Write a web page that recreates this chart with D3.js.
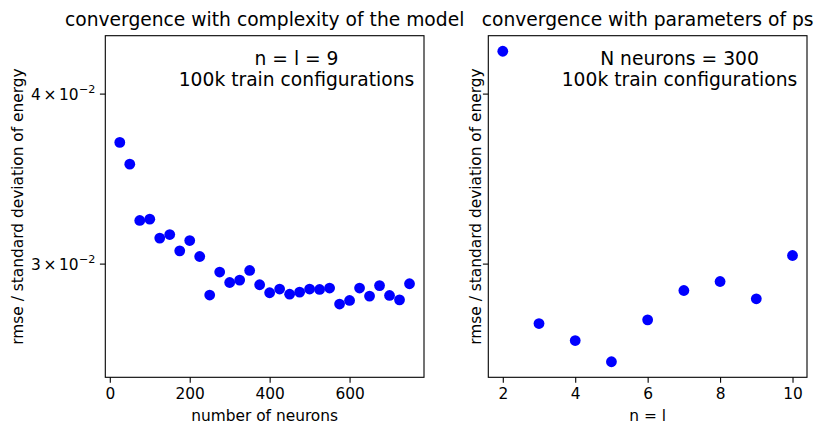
<!DOCTYPE html>
<html>
<head>
<meta charset="utf-8">
<script src="https://cdn.jsdelivr.net/npm/d3@7"></script>
<style>
  html, body { margin: 0; padding: 0; background: #fff; }
  svg { display: block; font-family: "DejaVu Sans", sans-serif; }
</style>
</head>
<body>
<svg id="chart" width="815" height="424"></svg>
<script>
// Number of neurons in the hidden layer (n = l = 9)
const neurons = [25, 50, 75, 100, 125, 150, 175, 200, 225, 250, 275, 300, 325, 350, 375,
                 400, 425, 450, 475, 500, 525, 550, 575, 600, 625, 650, 675, 700, 725, 750];
const rmseNeurons = [0.03686, 0.03553, 0.03230, 0.03237, 0.03135, 0.03154, 0.03068, 0.03122,
                     0.03039, 0.02847, 0.02960, 0.02908, 0.02920, 0.02968, 0.02897, 0.02858,
                     0.02876, 0.02851, 0.02861, 0.02876, 0.02874, 0.02881, 0.02804, 0.02821,
                     0.02881, 0.02842, 0.02893, 0.02845, 0.02824, 0.02902];

// Descriptor parameter n = l (N neurons = 300)
const nl = [2, 3, 4, 5, 6, 7, 8, 9, 10];
const rmseNl = [0.04301, 0.02713, 0.02636, 0.02543, 0.02730, 0.02869, 0.02913, 0.02829, 0.03044];

const yTicks = [0.03, 0.04];
const yTickMantissa = ["3", "4"];
const yTickExponent = ["\u22122", "\u22122"];
const xTicksLeft = [0, 200, 400, 600];
const xTicksRight = [2, 4, 6, 8, 10];

const titles = ["convergence with complexity of the model", "convergence with parameters of ps"];
const notes = [["n = l = 9", "100k train configurations"],
               ["N neurons = 300", "100k train configurations"]];
const xLabels = ["number of neurons", "n = l"];
const yLabel = "rmse / standard deviation of energy";

const svg = d3.select("#chart");
const plotTop = 35.7, plotBottom = 377.3;
const panels = [
  { x0: 105.3, x1: 424, xs: neurons, ys: rmseNeurons, ticks: xTicksLeft, showY: true, yLabX: 18 },
  { x0: 488.3, x1: 807, xs: nl, ys: rmseNl, ticks: xTicksRight, showY: false, yLabX: 476 }
];

// Shared log y scale with 5% padding in log space
const allY = rmseNeurons.concat(rmseNl);
const lmin = Math.log10(d3.min(allY)), lmax = Math.log10(d3.max(allY));
const lpad = (lmax - lmin) * 0.05;
const y = d3.scaleLog().domain([Math.pow(10, lmin - lpad), Math.pow(10, lmax + lpad)])
  .range([plotBottom, plotTop]);

const tickFont = 15.4, titleFont = 18.7, labelFont = 15.4;
const tickLen = 5.4;

panels.forEach((p, i) => {
  const xmin = d3.min(p.xs), xmax = d3.max(p.xs);
  const xpad = (xmax - xmin) * 0.05;
  const x = d3.scaleLinear().domain([xmin - xpad, xmax + xpad]).range([p.x0, p.x1]);
  const g = svg.append("g");

  // points
  g.selectAll("circle").data(p.xs).join("circle")
    .attr("cx", d => x(d))
    .attr("cy", (d, j) => y(p.ys[j]))
    .attr("r", 5.4)
    .attr("fill", "#0000ff");

  // frame
  g.append("rect")
    .attr("x", p.x0).attr("y", plotTop)
    .attr("width", p.x1 - p.x0).attr("height", plotBottom - plotTop)
    .attr("fill", "none").attr("stroke", "#000").attr("stroke-width", 1.1);

  // x axis
  const xa = g.append("g").attr("transform", `translate(0,${plotBottom})`)
    .call(d3.axisBottom(x).tickValues(p.ticks).tickSize(tickLen).tickSizeOuter(0).tickPadding(5.2));
  xa.select(".domain").remove();
  xa.selectAll(".tick line").attr("stroke", "#000").attr("stroke-width", 1.1);
  xa.selectAll(".tick text").attr("font-size", tickFont).attr("font-family", "DejaVu Sans")
    .attr("fill", "#000");

  // y axis ticks
  const ya = g.append("g");
  ya.selectAll("line").data(yTicks).join("line")
    .attr("x1", p.x0 - tickLen).attr("x2", p.x0)
    .attr("y1", d => y(d)).attr("y2", d => y(d))
    .attr("stroke", "#000").attr("stroke-width", 1.1);
  if (p.showY) {
    // mantissa × 10^exponent, laid out right to left from the tick
    yTicks.forEach((t, j) => {
      const right = p.x0 - tickLen - 4.4;
      const base = y(t) + 5.6;
      const exp = ya.append("text").attr("x", right).attr("y", base - 6.8)
        .attr("text-anchor", "end").attr("font-size", 11.2).attr("fill", "#000")
        .text(yTickExponent[j]);
      const ew = exp.node().getComputedTextLength();
      const ten = ya.append("text").attr("x", right - ew - 0.5).attr("y", base)
        .attr("text-anchor", "end").attr("font-size", tickFont).attr("fill", "#000")
        .text("10");
      const tw = ten.node().getComputedTextLength();
      const times = ya.append("text").attr("x", right - ew - 0.5 - tw - 2.6).attr("y", base)
        .attr("text-anchor", "end").attr("font-size", tickFont).attr("fill", "#000")
        .text("\u00d7");
      const xw = times.node().getComputedTextLength();
      ya.append("text").attr("x", right - ew - 0.5 - tw - 2.6 - xw - 2.6).attr("y", base)
        .attr("text-anchor", "end").attr("font-size", tickFont).attr("fill", "#000")
        .text(yTickMantissa[j]);
    });
  }

  const cx = (p.x0 + p.x1) / 2;
  // title
  g.append("text").attr("x", cx).attr("y", 25.7).attr("text-anchor", "middle")
    .attr("font-size", titleFont).attr("fill", "#000").text(titles[i]);

  // annotation
  const nx = p.x0 + 0.6 * (p.x1 - p.x0);
  notes[i].forEach((line, k) => {
    g.append("text").attr("x", nx).attr("y", 65 + k * 20.5).attr("text-anchor", "middle")
      .attr("font-size", titleFont).attr("fill", "#000").text(line);
  });

  // axis labels
  g.append("text").attr("x", cx).attr("y", 421).attr("text-anchor", "middle")
    .attr("font-size", labelFont).attr("fill", "#000").text(xLabels[i]);
  g.append("text")
    .attr("transform", `translate(${p.yLabX + 5},${(plotTop + plotBottom) / 2}) rotate(-90)`)
    .attr("text-anchor", "middle")
    .attr("font-size", labelFont).attr("fill", "#000").text(yLabel);
});
</script>
</body>
</html>
